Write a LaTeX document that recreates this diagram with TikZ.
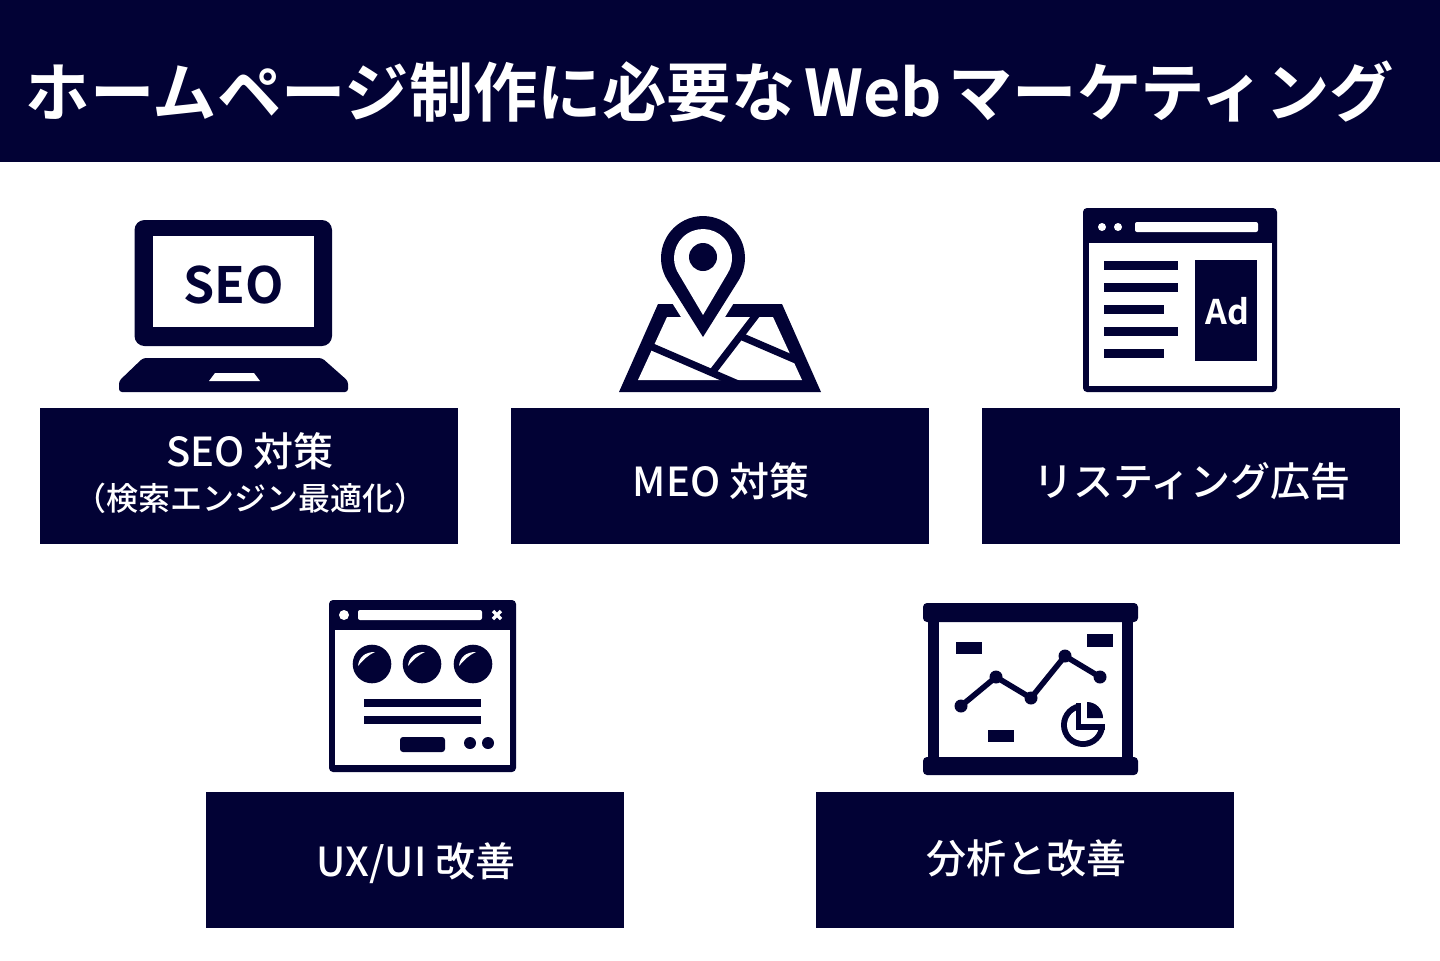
\documentclass[tikz,border=0pt]{standalone}
\usepackage{fontspec}
\setmainfont{Noto Sans CJK JP Medium}
\newfontfamily\boldjp{Noto Sans CJK JP Bold}
\definecolor{navy}{HTML}{020235}

\tikzset{
  paper/.style={fill=white, draw=none},
  label box/.style={fill=navy, text=white, minimum width=209pt, minimum height=68pt,
    inner sep=0pt, anchor=north west},
  label text/.style={text=white, inner sep=0pt, font=\fontsize{20pt}{24pt}\selectfont},
  road/.style={draw=navy, line width=3.6pt},
  trend/.style={draw=navy, line width=2.8pt}
}

\begin{document}
\begin{tikzpicture}[x=0.5pt, y=-0.5pt]

  \useasboundingbox (0,0) rectangle (1440,960);

  % --- Title band ---
  \fill[navy] (0,0) rectangle (1440,162);
  \node[text=white, inner sep=0pt, font=\boldjp\fontsize{32.2pt}{38pt}\selectfont] (title) at (710,92)
    {ホームページ制作に必要な\hspace{4.5pt}Web\hspace{3pt}マーケティング};

  % --- Label boxes ---
  \node[label box] (seobox) at (40,408) {};
  \node[label box] (meobox) at (511,408) {};
  \node[label box] (adbox) at (982,408) {};
  \node[label box] (uxbox) at (206,792) {};
  \node[label box] (kpibox) at (816,792) {};

  % --- Label texts ---
  \node[label text] (seotext) at (250,451) {SEO 対策};
  \node[label text, font=\fontsize{16pt}{20pt}\selectfont] (seosub) at (250,498) {（検索エンジン最適化）};
  \node[label text] (meotext) at (721,481) {MEO 対策};
  \node[label text] (adtext) at (1192,481) {リスティング広告};
  \node[label text] (uxtext) at (416,863) {UX/UI 改善};
  \node[label text] (kpitext) at (1026,858) {分析と改善};

  % --- Laptop icon ---
  \fill[navy, rounded corners=5pt] (134.5,220) rectangle (332,346);
  \fill[paper] (153,236) rectangle (313.5,327);
  \fill[navy, rounded corners=1.5pt] (143,358) -- (322,358) -- (348,381) -- (348,392) -- (119,392) -- (119,381) -- cycle;
  \fill[paper] (215,373) -- (254,373) -- (260,381) -- (209,381) -- cycle;
  \node[text=navy, inner sep=0pt, font=\boldjp\fontsize{25pt}{30pt}\selectfont] (seoword) at (234,285) {SEO};

  % --- Map pin icon ---
  \fill[navy] (658,304) -- (782,304) -- (821,392) -- (619,392) -- cycle;
  \fill[paper] (667,317) -- (773,317) -- (802,380) -- (638,380) -- cycle;
  \draw[road] (650,346) -- (738,384);
  \draw[road] (711,374) -- (757,314);
  \draw[road] (738,335) -- (796,360);
  \draw[white, line width=8pt, fill=white] (703,337) -- (667.4,280.3) arc[start angle=148, end angle=392, radius=42] -- cycle;
  \fill[navy] (703,337) -- (667.4,280.3) arc[start angle=148, end angle=392, radius=42] -- cycle;
  \fill[paper] (703,315) -- (678.4,273.4) arc[start angle=148, end angle=392, radius=29] -- cycle;
  \fill[navy] (703,257) circle (14);

  % --- Ad window icon ---
  \fill[navy, rounded corners=2pt] (1083,208) rectangle (1277,392);
  \fill[paper] (1089,243) rectangle (1272,386);
  \fill[paper] (1102,227) circle (4);
  \fill[paper] (1118,227) circle (4);
  \fill[paper, rounded corners=1pt] (1135,222) rectangle (1258,232);
  \fill[navy] (1104,261) rectangle (1178,270);
  \fill[navy] (1104,283) rectangle (1178,292);
  \fill[navy] (1104,305) rectangle (1164,314);
  \fill[navy] (1104,327) rectangle (1178,336);
  \fill[navy] (1104,349) rectangle (1164,358);
  \fill[navy] (1195,260) rectangle (1257,361);
  \node[text=white, inner sep=0pt, font=\boldjp\fontsize{17pt}{20pt}\selectfont] (adword) at (1227.5,311) {Ad};

  % --- UX window icon ---
  \fill[navy, rounded corners=2pt] (329,600) rectangle (516,772);
  \fill[paper] (335,630) rectangle (510,765);
  \fill[paper] (344,615) circle (5);
  \fill[paper, rounded corners=1pt] (358,610) rectangle (482,620);
  \draw[white, line width=1.7pt] (493,611) -- (501,619) (501,611) -- (493,619);
  \foreach \cx in {372,422,473} {
    \fill[navy] (\cx,664) circle (19.3);
    \fill[paper] (\cx-14,666) .. controls (\cx-13,657) and (\cx-7,652) .. (\cx+3,652) .. controls (\cx-4,655) and (\cx-9,660) .. cycle;
  }
  \fill[navy] (364,699) rectangle (481,707);
  \fill[navy] (364,716) rectangle (481,724);
  \fill[navy, rounded corners=1.5pt] (400,737) rectangle (445,752);
  \fill[navy] (470,743) circle (6);
  \fill[navy] (488,743) circle (6);

  % --- Chart board icon ---
  \fill[navy] (928,610) rectangle (939,770);
  \fill[navy] (1122,610) rectangle (1133,770);
  \fill[navy, rounded corners=2pt] (923,603) rectangle (1138,622);
  \fill[navy, rounded corners=2pt] (923,757) rectangle (1138,775);
  \fill[navy] (956,642) rectangle (982,654);
  \fill[navy] (1087,634) rectangle (1113,647);
  \fill[navy] (988,730) rectangle (1014,742);
  \draw[trend] (961,706) -- (996,677) -- (1031,698) -- (1065,656) -- (1100,677);
  \foreach \px/\py in {961/706, 996/677, 1031/698, 1065/656, 1100/677} {
    \fill[navy] (\px,\py) circle (6.5);
  }
  \fill[navy] (1083,725) circle (22);
  \fill[paper] (1083,725) circle (16);
  \fill[paper] (1081,695) rectangle (1110,724);
  \fill[navy] (1076,703) rectangle (1081,730);
  \fill[navy] (1076,724) rectangle (1105,730);
  \fill[navy] (1087,702) -- (1087,718) -- (1103,718) arc[start angle=0, end angle=-90, radius=16] -- cycle;

\end{tikzpicture}
\end{document}
